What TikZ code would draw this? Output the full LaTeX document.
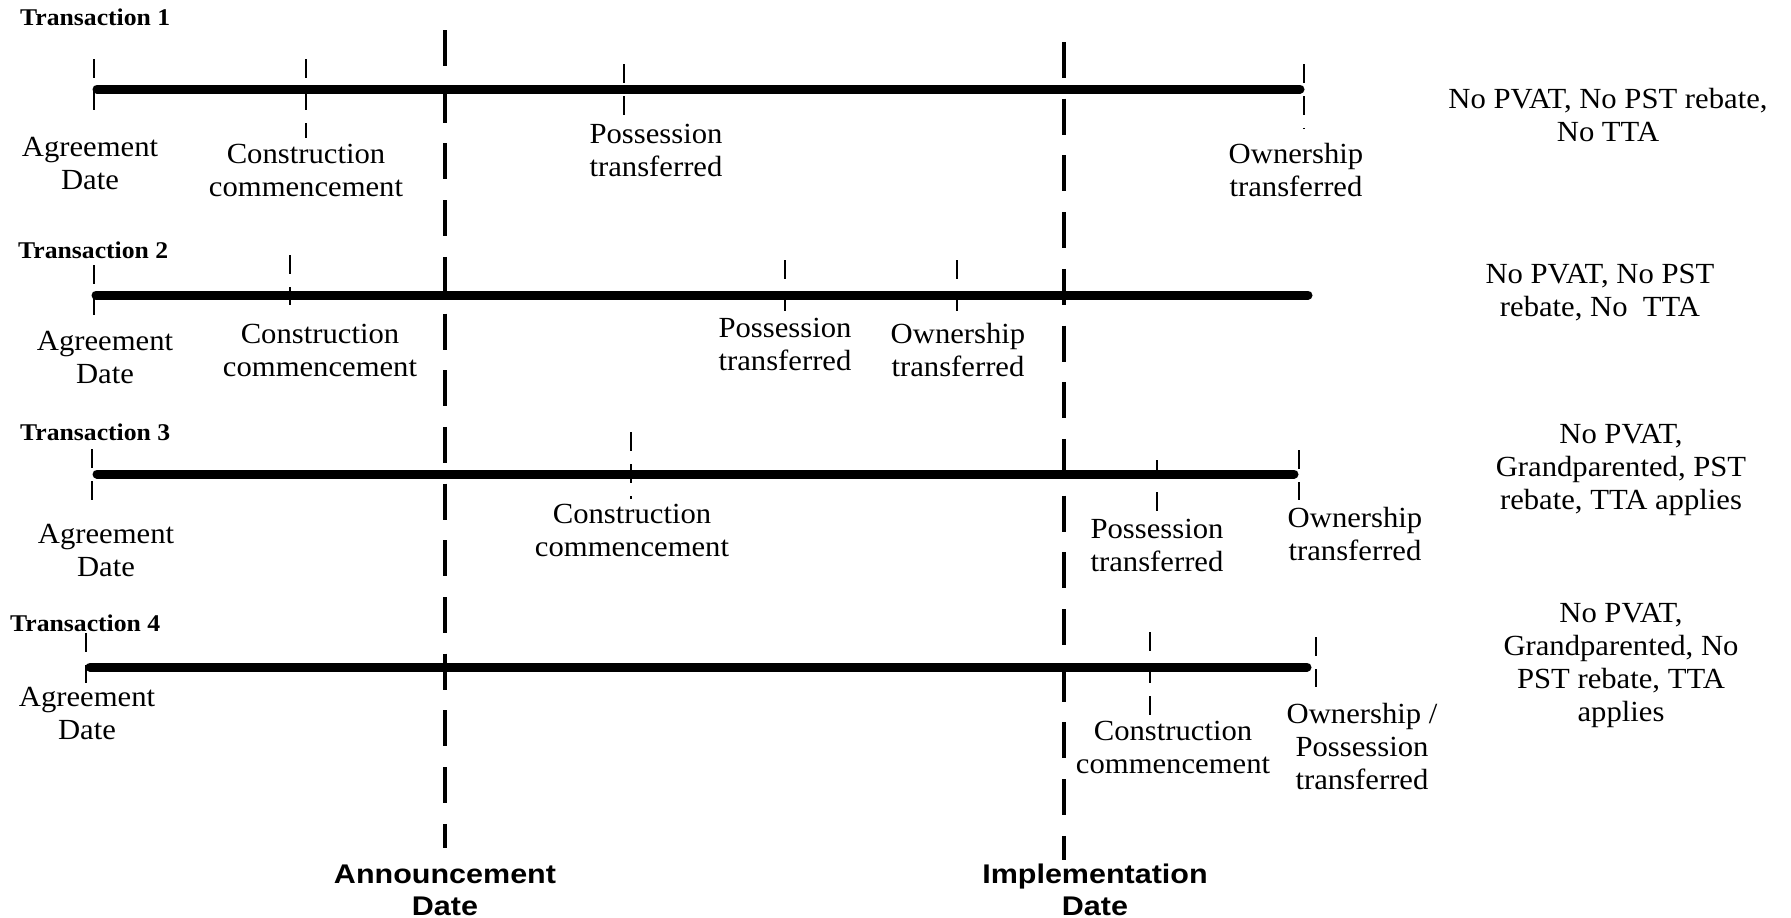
\documentclass[tikz,border=0pt]{standalone}
\usepackage{fontspec}
\setmainfont{Liberation Serif}
\newfontfamily\labfont[FakeStretch=1.05]{Liberation Serif}
\newfontfamily\ttlfont[FakeStretch=1.07]{Liberation Serif}
\newfontfamily\datfont[FakeStretch=1.13]{Liberation Sans}
\begin{document}
\begin{tikzpicture}[x=1pt,y=-1pt,
  timeline/.style={line width=9pt,line cap=round},
  tickmark/.style={line width=2pt,dash pattern=on 19pt off 13pt},
  keydate/.style={line width=4.5pt,dash pattern=on 36pt off 20.7pt},
  lab/.style={align=center,anchor=base,inner sep=0pt,font=\labfont\fontsize{29.2}{33}\selectfont},
  ttl/.style={anchor=base west,inner sep=0pt,font=\ttlfont\bfseries\fontsize{24}{28}\selectfont},
  datelab/.style={align=center,anchor=base,inner sep=0pt,font=\datfont\bfseries\fontsize{27}{32}\selectfont}]
\useasboundingbox (0,0) rectangle (1791,918);
% (anchor=base of a multi-line node is the baseline of its last line)

% ---------- Transaction 1 ----------
\node[ttl] (ttl1) at (20,25) {Transaction 1};
\coordinate (t1s) at (97,89); \coordinate (t1e) at (1300,89);
\draw[timeline] (t1s) -- (t1e);
\draw[tickmark] (94,59) -- (94,110);
\draw[tickmark] (306,59) -- (306,138);
\draw[tickmark] (624,64) -- (624,116);
\draw[tickmark] (1304,64) -- (1304,129);
\node[lab] (a1) at (90,189) {Agreement\\Date};
\node[lab] (c1) at (306,196) {Construction\\commencement};
\node[lab] (p1) at (656,176) {Possession\\transferred};
\node[lab] (o1) at (1296,196) {Ownership\\transferred};
\node[lab] (r1) at (1608,141) {No PVAT, No PST rebate,\\No TTA};

% ---------- Transaction 2 ----------
\node[ttl] (ttl2) at (18,258) {Transaction 2};
\coordinate (t2s) at (96,295); \coordinate (t2e) at (1308,295);
\draw[timeline] (t2s) -- (t2e);
\draw[tickmark] (94,265) -- (94,315);
\draw[tickmark] (290,255) -- (290,305);
\draw[tickmark] (785,260) -- (785,311);
\draw[tickmark] (957,260) -- (957,311);
\node[lab] (a2) at (105,383) {Agreement\\Date};
\node[lab] (c2) at (320,376) {Construction\\commencement};
\node[lab] (p2) at (785,370) {Possession\\transferred};
\node[lab] (o2) at (958,376) {Ownership\\transferred};
\node[lab] (r2) at (1600,316) {No PVAT, No PST\\rebate, No~~TTA};

% ---------- Transaction 3 ----------
\node[ttl] (ttl3) at (20,440) {Transaction 3};
\coordinate (t3s) at (97,474); \coordinate (t3e) at (1294,474);
\draw[timeline] (t3s) -- (t3e);
\draw[tickmark] (92,449) -- (92,500);
\draw[tickmark] (631,432) -- (631,499);
\draw[tickmark] (1157,460) -- (1157,512);
\draw[tickmark] (1299,450) -- (1299,500);
\node[lab] (a3) at (106,576) {Agreement\\Date};
\node[lab] (c3) at (632,556) {Construction\\commencement};
\node[lab] (p3) at (1157,571) {Possession\\transferred};
\node[lab] (o3) at (1355,560) {Ownership\\transferred};
\node[lab] (r3) at (1621,509) {No PVAT,\\Grandparented, PST\\rebate, TTA applies};

% ---------- Transaction 4 ----------
\node[ttl] (ttl4) at (10,631) {Transaction 4};
\coordinate (t4s) at (90,667); \coordinate (t4e) at (1307,667);
\draw[timeline] (t4s) -- (t4e);
\draw[tickmark] (86,633) -- (86,683);
\draw[tickmark] (1150,632) -- (1150,715);
\draw[tickmark] (1316,637) -- (1316,687);
\node[lab] (a4) at (87,739) {Agreement\\Date};
\node[lab] (c4) at (1173,773) {Construction\\commencement};
\node[lab] (o4) at (1362,789) {Ownership /\\Possession\\transferred};
\node[lab] (r4) at (1621,721) {No PVAT,\\Grandparented, No\\PST rebate, TTA\\applies};

% ---------- Key dates ----------
\coordinate (annTop) at (445,30); \coordinate (annBot) at (445,848);
\coordinate (impTop) at (1064,42); \coordinate (impBot) at (1064,860);
\draw[keydate] (annTop) -- (annBot);
\draw[keydate] (impTop) -- (impBot);
\node[datelab] (ann) at (445,915) {Announcement\\Date};
\node[datelab] (imp) at (1095,915) {Implementation\\Date};
\end{tikzpicture}
\end{document}
